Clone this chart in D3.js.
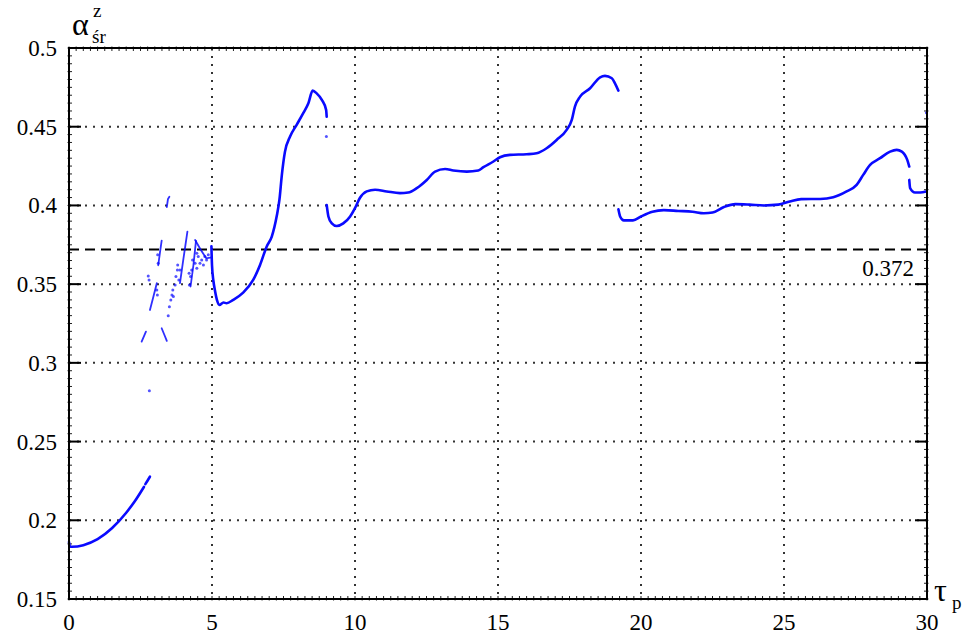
<!DOCTYPE html>
<html><head><meta charset="utf-8">
<script src="https://cdn.jsdelivr.net/npm/d3@7/dist/d3.min.js"></script>
<style>body{margin:0;background:#fff}svg{display:block}</style>
</head><body><svg id="c" width="964" height="634"></svg>
<script>
// ---- data ----
const xTicks = [0, 5, 10, 15, 20, 25, 30];
const yTicks = [0.15, 0.2, 0.25, 0.3, 0.35, 0.4, 0.45, 0.5];
const yTickLabels = ["0.15", "0.2", "0.25", "0.3", "0.35", "0.4", "0.45", "0.5"];
const refValue = 0.372;
const refLabel = "0.372";

// continuous branches [tau, alpha]
const branch1 = [[0,0.1862],[0.03,0.1834],[0.1,0.1832],[0.5,0.1842],[1.0,0.1880],[1.5,0.1949],[2.0,0.2048],[2.3,0.2121],[2.62,0.2212]];
const branch1b = [[2.67,0.2230],[2.75,0.2253],[2.83,0.2277]];
const branch2 = [[4.98,0.374],[5.0,0.362],[5.05,0.352],[5.10,0.3463],[5.18,0.3395],[5.26,0.3368],[5.40,0.3383],[5.51,0.3379],[5.74,0.340],[6.09,0.3446],[6.44,0.3527],[6.68,0.3622],[6.91,0.3738],[7.09,0.3802],[7.26,0.3929],[7.36,0.4040],[7.44,0.4190],[7.55,0.4340],[7.73,0.4438],[7.96,0.4512],[8.19,0.4586],[8.37,0.4649],[8.52,0.4729],[8.66,0.4712],[8.84,0.4671],[8.99,0.4607],[9.01,0.4564]];
const branch3 = [[9.01,0.4003],[9.07,0.393],[9.19,0.3886],[9.36,0.3869],[9.59,0.3886],[9.83,0.393],[10.0,0.3983],[10.17,0.4047],[10.41,0.4089],[10.70,0.41],[11.11,0.4089],[11.57,0.4078],[11.86,0.4082],[12.16,0.411],[12.51,0.4162],[12.80,0.4215],[13.15,0.4231],[13.44,0.4222],[13.91,0.4215],[14.31,0.4222],[14.49,0.4243],[14.84,0.4279],[15.07,0.4306],[15.42,0.4321],[16.0,0.4325],[16.35,0.4331],[16.70,0.4363],[17.05,0.4416],[17.40,0.448],[17.58,0.4543],[17.69,0.4628],[17.87,0.4691],[18.22,0.4744],[18.57,0.4814],[18.74,0.4823],[18.98,0.4808],[19.09,0.4776],[19.21,0.4729]];
const branch4 = [[19.21,0.3975],[19.27,0.393],[19.40,0.3905],[19.72,0.3905],[20.0,0.393],[20.4,0.396],[20.8,0.397],[21.3,0.3965],[21.8,0.396],[22.2,0.395],[22.5,0.3955],[22.9,0.399],[23.3,0.4008],[23.8,0.4005],[24.3,0.400],[24.8,0.4005],[25.2,0.4025],[25.6,0.404],[26.26,0.4041],[26.72,0.4052],[27.19,0.4089],[27.54,0.413],[27.77,0.4194],[28.01,0.4257],[28.36,0.430],[28.71,0.4342],[28.94,0.4353],[29.12,0.4342],[29.31,0.4289],[29.38,0.4247]];
const branch5 = [[29.38,0.4162],[29.41,0.411],[29.58,0.4082],[29.76,0.4082],[29.97,0.4089]];

// short pieces in the irregular region (tau 2.5 - 5)
const piece1 = [[2.54,0.3135],[2.69,0.3198]];
const piece2 = [[2.83,0.3336],[2.95,0.342],[3.07,0.3506]];
const piece3 = [[3.12,0.362],[3.18,0.370],[3.24,0.3776]];
const piece4 = [[3.42,0.399],[3.46,0.404],[3.51,0.4055]];
const piece5 = [[3.24,0.322],[3.33,0.318],[3.42,0.314]];
const piece6 = [[3.88,0.3506],[4.0,0.366],[4.14,0.3834]];
const piece7 = [[4.25,0.3485],[4.35,0.362],[4.44,0.3775]];
const piece8 = [[4.41,0.378],[4.6,0.372],[4.8,0.3664],[4.99,0.367]];

// scattered points
const scatterTau = [2.81,2.77,2.80,3.07,3.09,3.10,3.12,3.47,3.51,3.56,3.60,3.63,3.65,3.71,3.74,3.79,3.80,3.84,3.88,4.20,4.21,4.25,4.29,4.32,4.41,4.47,4.47,4.52,4.58,4.64,4.70,4.75,4.81,4.87,29.98,9.0];
const scatterVal = [0.2823,0.3552,0.3527,0.3463,0.3431,0.3686,0.3633,0.330,0.3357,0.340,0.3431,0.3463,0.3421,0.3495,0.3548,0.359,0.3622,0.3527,0.359,0.3569,0.3495,0.3548,0.359,0.3654,0.3633,0.3601,0.3696,0.3675,0.3633,0.3654,0.3622,0.3675,0.3654,0.3686,0.4588,0.4438];

// ---- drawing ----
const FONT = "Liberation Serif";
const svg = d3.select("#c");
const L = 69, R = 927, T = 48, B = 599;
const x = d3.scaleLinear().domain([0, 30]).range([L, R]);
const y = d3.scaleLinear().domain([0.15, 0.5]).range([B, T]);
const blue = "#0a0aff";
function txt(sel) { return sel.attr("font-family", FONT).attr("fill", "#000"); }

// grid
const g = svg.append("g");
g.selectAll(".gy").data(yTicks.slice(1, -1)).enter().append("line")
  .attr("x1", L).attr("x2", R).attr("y1", d => y(d)).attr("y2", d => y(d))
  .attr("stroke", "#333").attr("stroke-width", 2).attr("stroke-dasharray", "2,6");
g.selectAll(".gx").data(xTicks.slice(1, -1)).enter().append("line")
  .attr("y1", T).attr("y2", B).attr("x1", d => x(d)).attr("x2", d => x(d))
  .attr("stroke", "#333").attr("stroke-width", 2).attr("stroke-dasharray", "2,6");

// reference line
svg.append("line").attr("x1", L).attr("x2", R).attr("y1", y(refValue)).attr("y2", y(refValue))
  .attr("stroke", "#000").attr("stroke-width", 2).attr("stroke-dasharray", "10,6");
txt(svg.append("text")).attr("x", 914).attr("y", y(refValue) + 26).attr("text-anchor", "end")
  .attr("font-size", 23).text(refLabel);

// minor ticks
const minorY = d3.range(0.15, 0.5001, 0.005);
const minorX = d3.range(0, 30.001, 0.25);
const mt = svg.append("g").attr("stroke", "#222").attr("stroke-width", 1);
minorY.forEach(v => {
  mt.append("line").attr("x1", L - 1.5).attr("x2", L + 3).attr("y1", y(v)).attr("y2", y(v));
  mt.append("line").attr("x1", R + 1.5).attr("x2", R - 3).attr("y1", y(v)).attr("y2", y(v));
});
minorX.forEach(v => {
  mt.append("line").attr("y1", B + 1.5).attr("y2", B - 3).attr("x1", x(v)).attr("x2", x(v));
  mt.append("line").attr("y1", T - 1.5).attr("y2", T + 3).attr("x1", x(v)).attr("x2", x(v));
});
// major ticks
yTicks.forEach(v => {
  svg.append("line").attr("x1", L).attr("x2", L + 12).attr("y1", y(v)).attr("y2", y(v)).attr("stroke", "#000").attr("stroke-width", 2);
  svg.append("line").attr("x1", R).attr("x2", R - 12).attr("y1", y(v)).attr("y2", y(v)).attr("stroke", "#000").attr("stroke-width", 2);
});

// data
const line = d3.line().x(d => x(d[0])).y(d => y(d[1])).curve(d3.curveMonotoneX);
const lineL = d3.line().x(d => x(d[0])).y(d => y(d[1]));
[branch1, branch1b, branch2, branch3, branch4, branch5].forEach(b => {
  svg.append("path").attr("d", line(b)).attr("fill", "none")
    .attr("stroke", blue).attr("stroke-width", 2.6).attr("stroke-linejoin", "round").attr("stroke-linecap", "round");
});
[piece1, piece2, piece3, piece4, piece5, piece6, piece7, piece8].forEach(b => {
  svg.append("path").attr("d", lineL(b)).attr("fill", "none")
    .attr("stroke", blue).attr("stroke-width", 1.8).attr("stroke-opacity", 0.85).attr("stroke-linecap", "round");
});
svg.selectAll(".sc").data(scatterTau.map((t, i) => [t, scatterVal[i]])).enter().append("circle")
  .attr("cx", d => x(d[0])).attr("cy", d => y(d[1])).attr("r", 1.5)
  .attr("fill", blue).attr("fill-opacity", 0.7);

// frame
svg.append("rect").attr("x", L).attr("y", T).attr("width", R - L).attr("height", B - T)
  .attr("fill", "none").attr("stroke", "#000").attr("stroke-width", 2);

// tick labels
txt(svg.selectAll(".yl").data(yTicks).enter().append("text"))
  .attr("x", 57).attr("y", d => y(d) + 8).attr("text-anchor", "end").attr("font-size", 23)
  .text((d, i) => yTickLabels[i]);
txt(svg.selectAll(".xl").data(xTicks).enter().append("text"))
  .attr("x", d => x(d)).attr("y", 630).attr("text-anchor", "middle").attr("font-size", 23)
  .text(d => d);

// axis titles
txt(svg.append("text")).attr("x", 72).attr("y", 35).attr("font-size", 32).text("α");
txt(svg.append("text")).attr("x", 93).attr("y", 17).attr("font-size", 19).text("z");
txt(svg.append("text")).attr("x", 92).attr("y", 43).attr("font-size", 19).text("śr");
txt(svg.append("text")).attr("x", 934).attr("y", 601).attr("font-size", 32).text("τ");
txt(svg.append("text")).attr("x", 952).attr("y", 609).attr("font-size", 19).text("p");
</script></body></html>
